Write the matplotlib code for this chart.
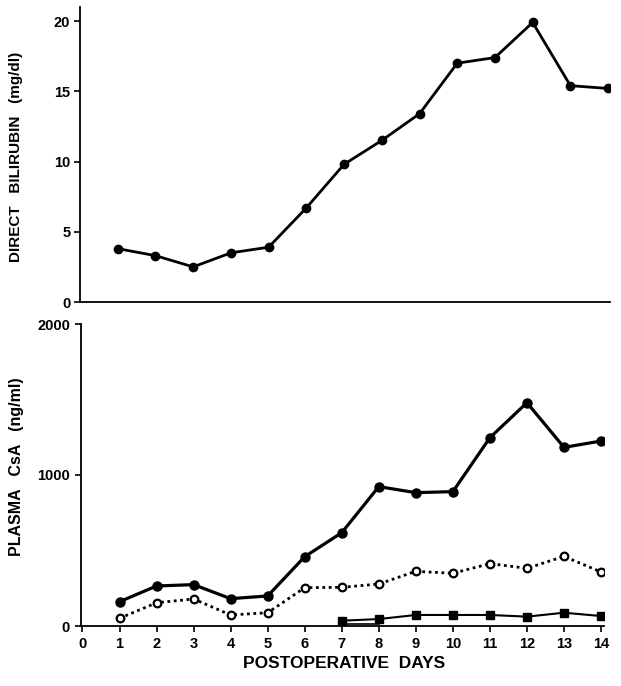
import matplotlib
matplotlib.use("Agg")
import matplotlib.pyplot as plt

# ---- data ----
days = list(range(1, 15))
bilirubin = [3.8, 3.3, 2.5, 3.5, 3.9, 6.7, 9.8, 11.5, 13.4, 17.0, 17.4, 19.9, 15.4, 15.2]

csa_solid = [161, 265, 274, 181, 199, 459, 618, 923, 883, 890, 1247, 1479, 1183, 1225]
csa_open = [51, 154, 179, 73, 88, 254, 256, 278, 362, 349, 413, 382, 461, 358]
sq_days = [7, 8, 9, 10, 11, 12, 13, 14]
csa_square = [35, 46, 73, 73, 73, 62, 88, 66]
low_days = [7, 8]
csa_low = [14, 14]

top_yticks = [0, 5, 10, 15, 20]
bot_yticks = [0, 1000, 2000]
xticks = list(range(0, 15))

plt.rcParams['font.family'] = ['Liberation Sans', 'DejaVu Sans']
plt.rcParams['font.weight'] = 'bold'

W, H = 621, 686
fig = plt.figure(figsize=(W / 100, H / 100), dpi=100)

def pos(l, t, r, b):
    return [l / W, 1 - b / H, (r - l) / W, (b - t) / H]

# top panel
ax1 = fig.add_axes(pos(80, 7, 610, 302))
ax1.plot(days, bilirubin, color='black', lw=2.0, marker='o', ms=6, mfc='black', mec='black')
ax1.set_xlim(0, 14.05)
ax1.set_ylim(0, 21)
ax1.set_yticks(top_yticks)
ax1.set_xticks([])
for s in ['top', 'right']:
    ax1.spines[s].set_visible(False)
for s in ['left', 'bottom']:
    ax1.spines[s].set_linewidth(1.3)
ax1.tick_params(axis='y', direction='out', length=4, width=1.2, labelsize=10.5, pad=3)
for lab in ax1.get_yticklabels():
    lab.set_fontweight('bold')
fig.text(16 / W, 1 - 157 / H, 'DIRECT   BILIRUBIN   (mg/dl)', rotation=90,
         ha='center', va='center', fontsize=11, fontweight='bold')

# bottom panel
ax2 = fig.add_axes(pos(81, 324, 604, 626))
ax2.plot(days, csa_solid, color='black', lw=2.3, marker='o', ms=6.5, mfc='black', mec='black', zorder=4)
ax2.plot(days, csa_open, color='black', lw=2.0, ls=(0, (1, 1.3)), marker='o', ms=5.5,
         mfc='white', mec='black', mew=1.6, zorder=3)
ax2.plot(sq_days, csa_square, color='black', lw=1.5, marker='s', ms=6, mfc='black', mec='black', zorder=3)
ax2.plot(low_days, csa_low, color='black', lw=1.2, zorder=2)
ax2.set_xlim(-0.04, 14.08)
ax2.set_ylim(0, 2000)
ax2.set_yticks(bot_yticks)
ax2.set_xticks(xticks)
for s in ['top', 'right']:
    ax2.spines[s].set_visible(False)
for s in ['left', 'bottom']:
    ax2.spines[s].set_linewidth(1.3)
ax2.tick_params(axis='both', direction='out', length=4, width=1.2, labelsize=10.5, pad=4)
for lab in ax2.get_yticklabels() + ax2.get_xticklabels():
    lab.set_fontweight('bold')
fig.text(17 / W, 1 - 467 / H, 'PLASMA   CsA   (ng/ml)', rotation=90,
         ha='center', va='center', fontsize=11.5, fontweight='bold')
fig.text(344 / W, 1 - 663 / H, 'POSTOPERATIVE  DAYS', ha='center', va='center',
         fontsize=12.5, fontweight='bold')

fig.savefig('out.png', dpi=100)
